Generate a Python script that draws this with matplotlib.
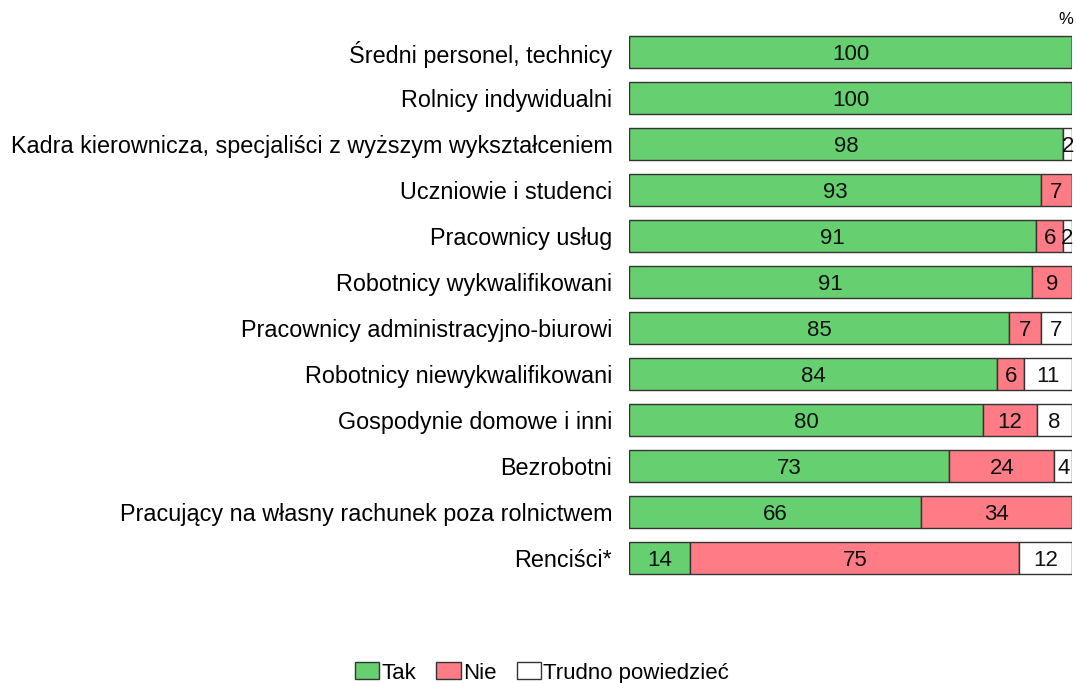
import matplotlib
matplotlib.use("Agg")
import matplotlib.pyplot as plt
from matplotlib.patches import Patch
import numpy as np

plt.rcParams['font.family'] = ['Liberation Sans', 'DejaVu Sans']

categories = ['Średni personel, technicy', 'Rolnicy indywidualni',
              'Kadra kierownicza, specjaliści z wyższym wykształceniem',
              'Uczniowie i studenci', 'Pracownicy usług', 'Robotnicy wykwalifikowani',
              'Pracownicy administracyjno-biurowi', 'Robotnicy niewykwalifikowani',
              'Gospodynie domowe i inni', 'Bezrobotni',
              'Pracujący na własny rachunek poza rolnictwem', 'Renciści*']
tak = [100, 100, 98, 93, 91, 91, 85, 84, 80, 73, 66, 14]
nie = [0, 0, 0, 7, 6, 9, 7, 6, 12, 24, 34, 75]
trudno = [0, 0, 2, 0, 2, 0, 7, 11, 8, 4, 0, 12]
series_names = ['Tak', 'Nie', 'Trudno powiedzieć']
colors = ['#66CF70', '#FF7C87', '#FFFFFF']

fig = plt.figure(figsize=(10.76, 6.83), dpi=100)
ax = fig.add_axes([629/1076, 1-581/683, 443/1076, 552/683])

data = np.array([tak, nie, trudno], dtype=float)
totals = data.sum(axis=0)
norm = data / totals * 100
y = np.arange(len(categories))
left = np.zeros(len(categories))
for i in range(3):
    ax.barh(y, norm[i], left=left, height=0.71, color=colors[i],
            edgecolor='#333333', linewidth=1.0)
    for j in range(len(categories)):
        if data[i, j] > 0:
            ax.text(left[j] + norm[i, j]/2, y[j], f"{int(data[i, j])}",
                    ha='center', va='center_baseline', fontsize=16, color='#111111')
    left += norm[i]

ax.set_xlim(0, 100)
ax.set_ylim(len(categories)-0.5, -0.5)
ax.set_yticks(y)
ax.set_yticklabels(categories, fontsize=16.8)
ax.tick_params(axis='y', length=0, pad=12)
ax.set_xticks([])
for s in ax.spines.values():
    s.set_visible(False)

fig.text(1066/1076, 1-20/683, '%', ha='center', va='center', fontsize=12)

handles = [Patch(facecolor=c, edgecolor='#333333', linewidth=1.0) for c in colors]
fig.legend(handles, series_names, loc='center', bbox_to_anchor=(542/1076, 1-673/683),
           ncol=3, frameon=False, fontsize=16, handlelength=1.1, handleheight=0.8,
           handletextpad=0.1, columnspacing=0.9)

fig.savefig('out.png', dpi=100)
